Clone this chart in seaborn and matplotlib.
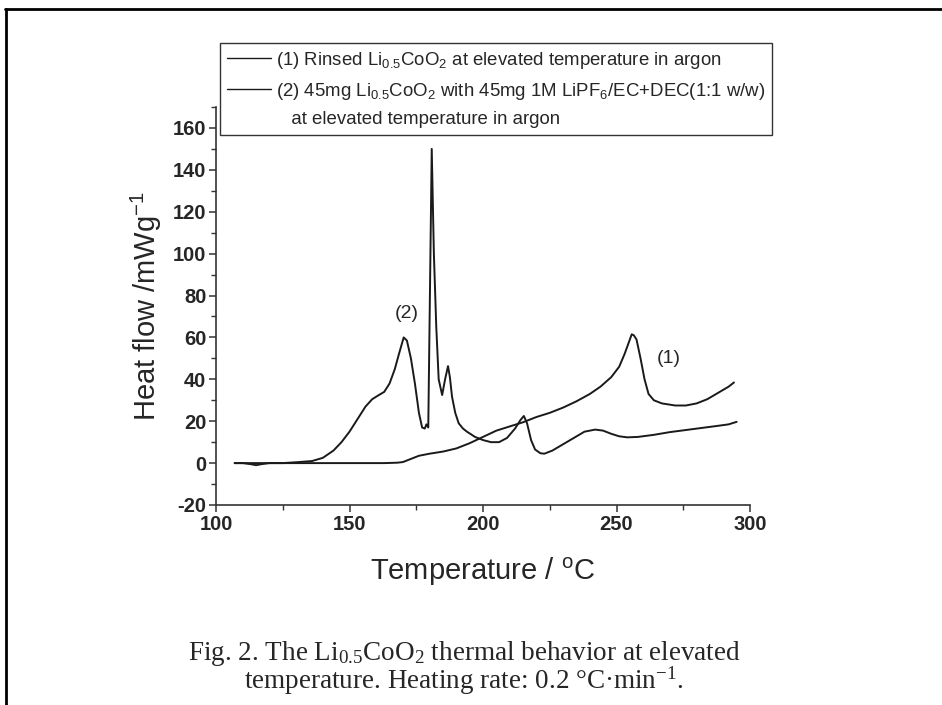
import matplotlib
matplotlib.use("Agg")
import matplotlib.pyplot as plt
from matplotlib.lines import Line2D
from matplotlib.ticker import MultipleLocator
import seaborn as sns

# Curve (1): rinsed Li0.5CoO2
temp_rinsed = [107, 115, 125, 135, 145, 155, 163, 168, 170, 173, 176, 180, 185, 190, 195,
               200, 205, 210, 215, 220, 225, 230, 235, 240, 244, 248, 251, 253, 255, 255.7,
               256.5, 257.5, 259, 260.5, 262, 264, 267, 272, 276, 280, 284, 288, 292, 294]
flow_rinsed = [0, 0, 0, 0, 0, 0, 0, 0.2, 0.5, 2, 3.5, 4.5, 5.5, 7, 9.5,
               12.5, 15.5, 17.5, 19.5, 22, 24, 26.5, 29.5, 33, 36.5, 41, 46, 52, 59, 61.5,
               61, 59, 50, 40, 33, 30, 28.5, 27.5, 27.5, 28.5, 30.5, 33.5, 36.5, 38.5]

# Curve (2): Li0.5CoO2 with electrolyte
temp_mix = [107, 110, 113, 115, 117, 120, 125, 131, 136, 140, 144, 147, 150, 153, 156,
            158.5, 161, 163, 165, 167, 168.5, 170.3, 171.5, 173, 174.5, 176, 177.2, 178.2,
            178.8, 179.5, 180.8, 181.6, 182.5, 183.4, 184.7, 185.8, 186.9, 187.6, 188.4,
            189.6, 190.9, 192.5, 194, 197, 200, 203, 206, 209, 212, 214, 215.3, 216.5, 218,
            219.5, 221.5, 223, 226, 230, 234, 238, 242, 245, 248, 251, 254, 258, 264, 270,
            276, 282, 288, 292, 295]
flow_mix = [0, 0, -0.5, -1, -0.5, 0, 0, 0.5, 1, 2.5, 6, 10, 15, 21, 27,
            30.5, 32.5, 34, 38, 45, 52, 60, 58.5, 50, 38, 24, 17, 16.5,
            18.5, 17, 150, 100, 65, 40, 32.5, 40, 46.3, 41, 31.7,
            24, 19, 16.5, 15, 12.5, 11, 10, 10, 12, 16.5, 20.5, 22.5, 19, 11,
            6.5, 4.7, 4.5, 6, 9, 12, 15, 16, 15.5, 14, 12.8, 12.3, 12.5, 13.5, 14.8,
            15.8, 16.8, 17.8, 18.5, 19.7]

legend_labels = [
    "(1) Rinsed Li$_{0.5}$CoO$_2$ at elevated temperature in argon",
    "(2) 45mg Li$_{0.5}$CoO$_2$ with 45mg 1M LiPF$_6$/EC+DEC(1:1 w/w)",
    "   at elevated temperature in argon",
]
caption_lines = [
    "Fig. 2. The Li$_{0.5}$CoO$_2$ thermal behavior at elevated",
    "temperature. Heating rate: 0.2 \u00b0C\u00b7min$^{-1}$.",
]

sns.set_style("ticks")
plt.rcParams["font.family"] = ["Liberation Sans", "DejaVu Sans"]
plt.rcParams["mathtext.default"] = "regular"
plt.rcParams["axes.unicode_minus"] = False

fig = plt.figure(figsize=(9.42, 7.05), dpi=100)
ax = fig.add_axes([216 / 942, 200 / 705, 534 / 942, 398 / 705])

line_color = "#1a1a1a"
sns.lineplot(x=temp_rinsed, y=flow_rinsed, ax=ax, color=line_color, lw=1.4,
             estimator=None, sort=False)
sns.lineplot(x=temp_mix, y=flow_mix, ax=ax, color=line_color, lw=1.4,
             estimator=None, sort=False)

ax.set_xlim(100, 300)
ax.set_ylim(-20, 170)
ax.xaxis.set_major_locator(MultipleLocator(50))
ax.xaxis.set_minor_locator(MultipleLocator(25))
ax.yaxis.set_minor_locator(MultipleLocator(10))
ax.set_yticks([-20, 0, 20, 40, 60, 80, 100, 120, 140, 160])

for side in ["top", "right"]:
    ax.spines[side].set_visible(False)
for side in ["left", "bottom"]:
    ax.spines[side].set_color("#333333")
    ax.spines[side].set_linewidth(1.2)

ax.tick_params(which="major", direction="out", length=5, width=1.1, color="#333333",
               labelsize=14.5, pad=2)
ax.tick_params(which="minor", direction="out", length=3.5, width=1.0, color="#333333")
for lab in ax.get_xticklabels() + ax.get_yticklabels():
    lab.set_fontweight("bold")

ax.set_xlabel("Temperature / $^{o}$C", fontsize=21, labelpad=16)
ax.set_ylabel("Heat flow /mWg$^{-1}$", fontsize=21, labelpad=6)

ax.text(171.3, 71.5, "(2)", fontsize=14, ha="center", va="center")
ax.text(269.6, 50, "(1)", fontsize=14, ha="center", va="center")

handles = [Line2D([], [], color=line_color, lw=1.0),
           Line2D([], [], color=line_color, lw=1.0),
           Line2D([], [], color="none")]
leg = ax.legend(handles, legend_labels, loc="upper left", bbox_to_anchor=(0.0075, 1.16),
                fontsize=13.4, frameon=True, fancybox=False, framealpha=1,
                edgecolor="#333333", handlelength=2.4, handletextpad=0.25,
                labelspacing=0.52, borderpad=0.35, borderaxespad=0)
leg.get_frame().set_linewidth(1.0)

# caption below the chart, one two-line text block
fig.text(464 / 942, 1 - 668 / 705, "\n".join(caption_lines), ha="center", va="center",
         multialignment="center", linespacing=0.85,
         family="Liberation Serif", fontsize=19.5)

# page frame edges visible in the scan
fig.add_artist(Line2D([5 / 942, 1], [1 - 9 / 705] * 2, transform=fig.transFigure,
                      color="black", lw=2))
fig.add_artist(Line2D([6 / 942] * 2, [0, 1 - 9 / 705], transform=fig.transFigure,
                      color="black", lw=2))

fig.savefig("out.png", dpi=100)
